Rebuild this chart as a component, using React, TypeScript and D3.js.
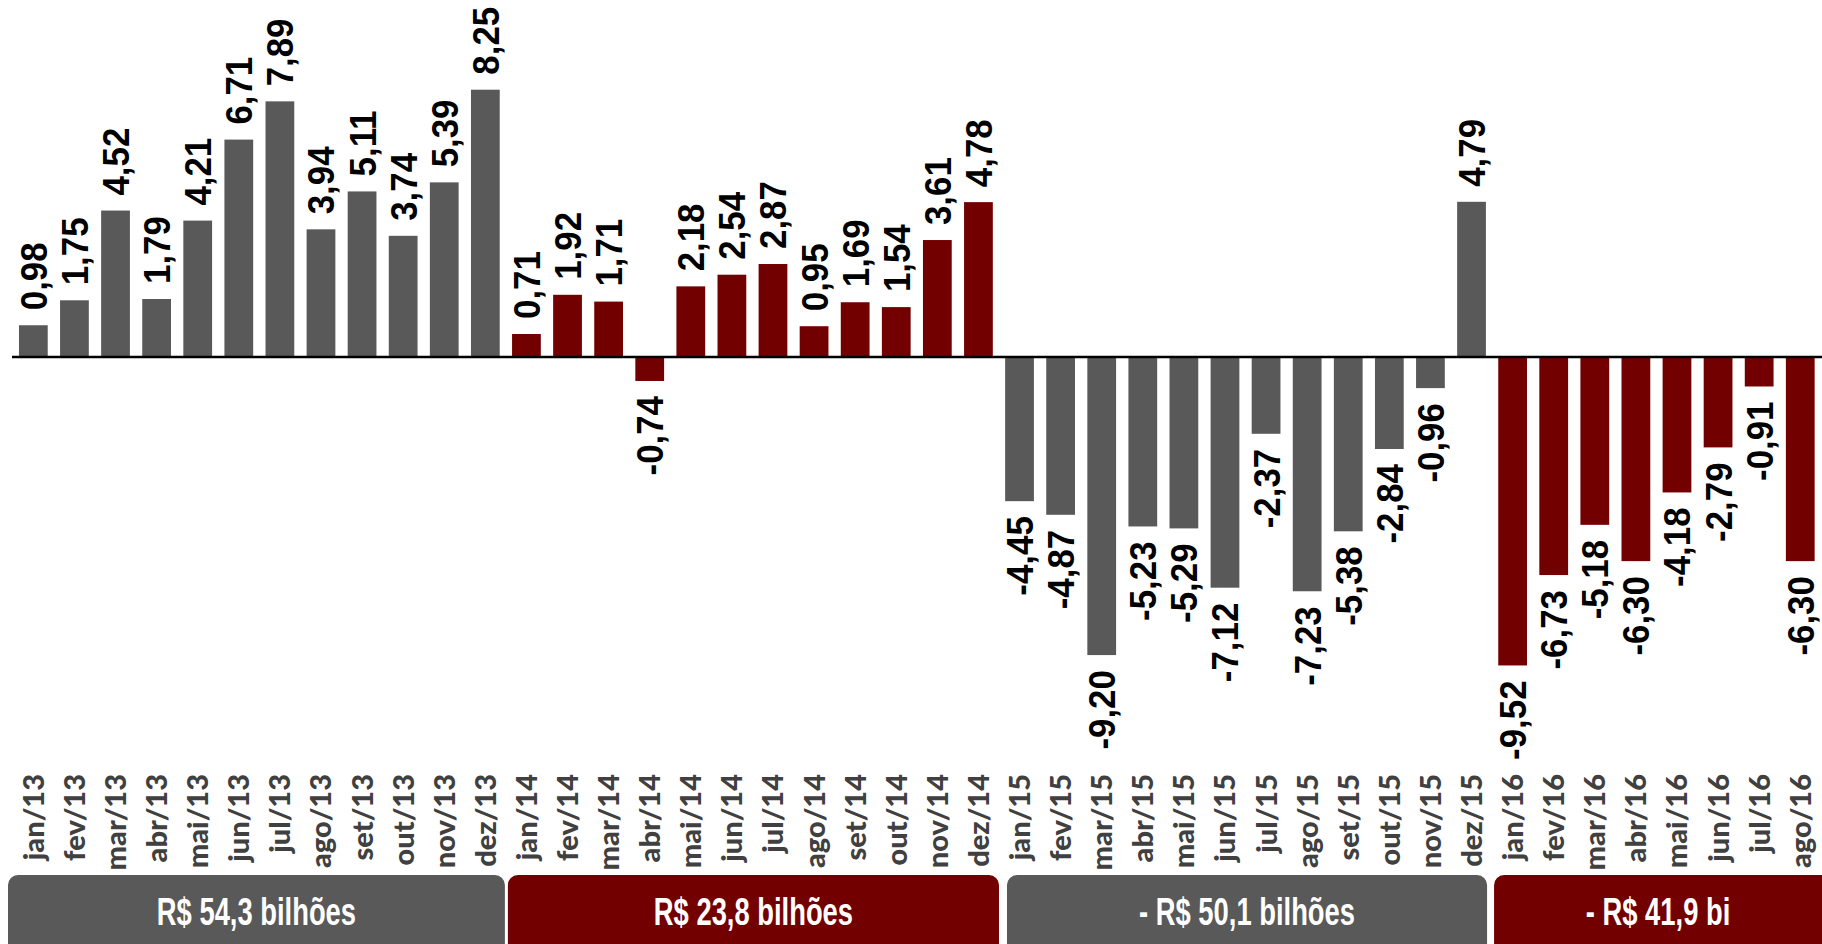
import React from "react";
import * as d3 from "d3";

const categories = [
  "jan/13", "fev/13", "mar/13", "abr/13", "mai/13", "jun/13", "jul/13", "ago/13", "set/13", "out/13", "nov/13", "dez/13",
  "jan/14", "fev/14", "mar/14", "abr/14", "mai/14", "jun/14", "jul/14", "ago/14", "set/14", "out/14", "nov/14", "dez/14",
  "jan/15", "fev/15", "mar/15", "abr/15", "mai/15", "jun/15", "jul/15", "ago/15", "set/15", "out/15", "nov/15", "dez/15",
  "jan/16", "fev/16", "mar/16", "abr/16", "mai/16", "jun/16", "jul/16", "ago/16",
];

const values2013 = [0.98, 1.75, 4.52, 1.79, 4.21, 6.71, 7.89, 3.94, 5.11, 3.74, 5.39, 8.25];
const values2014 = [0.71, 1.92, 1.71, -0.74, 2.18, 2.54, 2.87, 0.95, 1.69, 1.54, 3.61, 4.78];
const values2015 = [-4.45, -4.87, -9.2, -5.23, -5.29, -7.12, -2.37, -7.23, -5.38, -2.84, -0.96, 4.79];
const values2016 = [-9.52, -6.73, -5.18, -6.3, -4.18, -2.79, -0.91, -6.3];

const periodValues = [values2013, values2014, values2015, values2016];
const periodLabels = ["R$ 54,3 bilhões", "R$ 23,8 bilhões", "- R$ 50,1 bilhões", "- R$ 41,9 bi"];
const periodColors = ["#595959", "#730000", "#595959", "#730000"];

const W = 1822;
const H = 944;
// box edge offsets relative to each period's band span (layout only)
const boxLeftOffsets = [-4.8, 2, 8, 2];
const boxRightOffsets = [-1, 0, -5, 30];

const fmt = (v: number) => v.toFixed(2).replace(".", ",");

export default function App() {
  const rows: { cat: string; value: number; period: number }[] = [];
  let k = 0;
  periodValues.forEach((arr, p) => {
    arr.forEach((v) => {
      rows.push({ cat: categories[k], value: v, period: p });
      k++;
    });
  });

  const x = d3
    .scaleBand<string>()
    .domain(categories)
    .range([12.8, 1820.8])
    .paddingInner(0.3)
    .paddingOuter(0.15);
  const y = d3.scaleLinear().domain([-10, 10]).range([681, 33]);
  const y0 = y(0);
  const step = x.step();
  const bw = x.bandwidth();
  const r0 = x.range()[0];

  const boxes: { x0: number; x1: number; label: string; color: string }[] = [];
  let start = 0;
  periodValues.forEach((arr, p) => {
    const gs = r0 + start * step;
    const ge = r0 + (start + arr.length) * step;
    boxes.push({
      x0: gs + boxLeftOffsets[p],
      x1: ge + boxRightOffsets[p],
      label: periodLabels[p],
      color: periodColors[p],
    });
    start += arr.length;
  });

  return (
    <svg
      width={W}
      height={H}
      style={{ position: "absolute", left: 0, top: 0, display: "block", background: "#ffffff" }}
    >
      <g>
        {rows.map((d) => {
          const bx = x(d.cat)!;
          const top = Math.min(y(d.value), y0);
          const h = Math.abs(y(d.value) - y0);
          return (
            <rect key={"b" + d.cat} x={bx} y={top} width={bw} height={h} fill={periodColors[d.period]} />
          );
        })}
      </g>
      <line x1={12} x2={W} y1={y0} y2={y0} stroke="#000" strokeWidth={2.5} />
      <g>
        {rows.map((d) => {
          const cx = x(d.cat)! + bw / 2;
          const pos = d.value >= 0;
          const ty = pos ? y(d.value) - 15 : y(d.value) + 15;
          const tx = cx + 13.5;
          return (
            <text
              key={"v" + d.cat}
              transform={`translate(${tx},${ty}) rotate(-90) scale(0.93,1)`}
              textAnchor={pos ? "start" : "end"}
              fontFamily="'Liberation Sans', Arial, sans-serif"
              fontWeight="bold"
              fontSize={37.5}
              fill="#000"
            >
              {fmt(d.value)}
            </text>
          );
        })}
      </g>
      <g>
        {rows.map((d) => {
          const cx = x(d.cat)! + bw / 2;
          return (
            <text
              key={"c" + d.cat}
              transform={`translate(${cx + 10.5},774) rotate(-90)`}
              textAnchor="end"
              fontFamily="Lato, 'Open Sans', sans-serif"
              fontWeight={900}
              fontSize={29}
              fill="#404040"
            >
              {d.cat}
            </text>
          );
        })}
      </g>
      <g>
        {boxes.map((b) => {
          const cx = (b.x0 + Math.min(b.x1, W)) / 2;
          return (
            <g key={"p" + b.label}>
              <rect x={b.x0} y={875} width={b.x1 - b.x0} height={100} rx={10} ry={10} fill={b.color} />
              <text
                transform={`translate(${cx},925) scale(0.72,1)`}
                textAnchor="middle"
                fontFamily="'Liberation Sans', Arial, sans-serif"
                fontWeight="bold"
                fontSize={38}
                fill="#ffffff"
              >
                {b.label}
              </text>
            </g>
          );
        })}
      </g>
    </svg>
  );
}
